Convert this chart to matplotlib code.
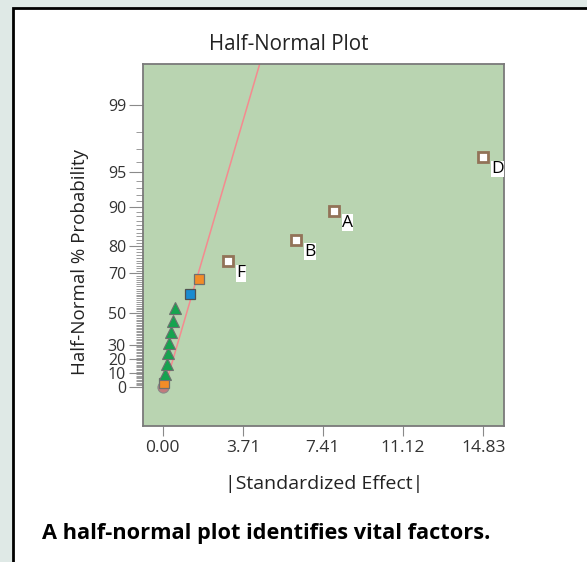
import numpy as np
import matplotlib
matplotlib.use('Agg')
import matplotlib.pyplot as plt
from matplotlib.patches import Rectangle
from statistics import NormalDist

plt.rcParams['font.family'] = ['Open Sans', 'DejaVu Sans']

# data (|effect|, half-normal % probability)
circle_x = [0.00]
circle_p = [0.0]
orange_x = [0.06, 1.69]
orange_p = [3.0, 67.5]
tri_x = [0.11, 0.18, 0.26, 0.31, 0.40, 0.49, 0.58]
tri_p = [9.2, 16.4, 24.0, 30.8, 38.0, 45.3, 52.6]
blue_x = [1.25]
blue_p = [60.3]
named_x = [3.03, 6.17, 7.92, 14.83]
named_p = [74.8, 82.1, 89.2, 96.4]
named_lab = ['F', 'B', 'A', 'D']

line_x = [0.24, 4.6]
line_p = [7.2, 99.75]

xticks = [0.00, 3.71, 7.41, 11.12, 14.83]
yticks = [0, 10, 20, 30, 50, 70, 80, 90, 95, 99]
yminor = list(range(1, 99))

nd = NormalDist()
def hn(p):
    # half-normal quantile of a percent value
    p = np.atleast_1d(np.asarray(p, dtype=float))
    return np.array([nd.inv_cdf(0.5 + v / 200.0) for v in p])

W, H = 587, 562
fig = plt.figure(figsize=(W / 100, H / 100), dpi=100, facecolor='#dfe9e6')

# white panel with black border
fig.patches.append(Rectangle((13 / W, -0.1), 1.2, 1 - 8 / H + 0.1, transform=fig.transFigure,
                             facecolor='white', edgecolor='black', linewidth=2, zorder=-10))

ax = fig.add_axes([142.7 / W, 1 - 425.7 / H, (504.3 - 142.7) / W, (425.7 - 64.3) / H])
ax.set_zorder(5)
ax.set_facecolor('#b9d4b1')
for s in ax.spines.values():
    s.set_color('#7a7a7a')
    s.set_linewidth(1.3)

ax.plot(line_x, hn(line_p), color='#f58a8f', lw=1.1, zorder=2)

ax.plot(circle_x, hn(circle_p), 'o', ms=8, mfc='#c27a7c', mec='#8a8a8a', mew=0.8, zorder=3)
ax.plot(orange_x, hn(orange_p), 's', ms=7, mfc='#f28c28', mec='#6f6f6f', mew=0.9, zorder=4)
ax.plot(tri_x, hn(tri_p), '^', ms=8.5, mfc='#16a34f', mec='#6f6f6f', mew=0.8, zorder=4)
ax.plot(blue_x, hn(blue_p), 's', ms=7, mfc='#1a8bd0', mec='#505050', mew=0.9, zorder=4)
ax.plot(named_x, hn(named_p), 's', ms=7.5, mfc='white', mec='#927358', mew=2, zorder=4)

for x, p, lab in zip(named_x, named_p, named_lab):
    ax.annotate(lab, (x, hn(p)[0]), xytext=(8, -12), textcoords='offset pixels',
                fontsize=12.5, color='black', ha='left', va='center',
                bbox=dict(boxstyle='square,pad=0.02', fc='white', ec='none'), zorder=5)

ax.set_xlim(-0.925, 15.80)
ax.set_ylim(-0.356, 2.944)
ax.set_xticks(xticks)
ax.set_xticklabels(['%.2f' % v for v in xticks])
ax.set_yticks(hn(yticks))
ax.set_yticklabels([str(v) for v in yticks])
ax.set_yticks(hn(yminor), minor=True)
ax.tick_params(axis='both', which='major', colors='#8a8a8a', labelcolor='#333333', labelsize=12.5)
ax.tick_params(axis='y', which='major', labelsize=11.5)
ax.tick_params(axis='x', which='major', length=7, pad=3)
ax.tick_params(axis='y', which='major', length=10, pad=2)
ax.tick_params(axis='y', which='minor', length=5, color='#8a8a8a')

fig.text(289 / W, 1 - 45 / H, 'Half-Normal Plot', ha='center', va='center', fontsize=14.8, color='#222222')
fig.text(324 / W, 1 - 484 / H, '|Standardized Effect|', ha='center', va='center', fontsize=14, color='#222222')
fig.text(80 / W, 1 - 262 / H, 'Half-Normal % Probability', ha='center', va='center', rotation=90,
         fontsize=13.5, color='#222222')
fig.text(42 / W, 1 - 533 / H, 'A half-normal plot identifies vital factors.', ha='left', va='center',
         fontsize=15.7, fontweight='bold', color='black')

fig.savefig('out.png', dpi=100, facecolor=fig.get_facecolor())
